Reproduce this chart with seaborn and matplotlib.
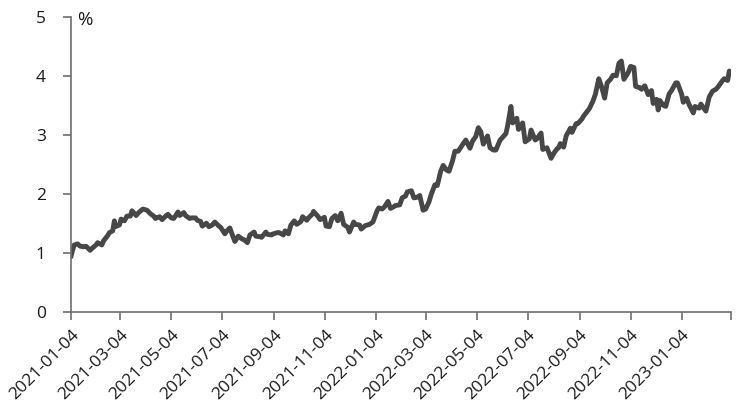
import pandas as pd
import matplotlib
matplotlib.use("Agg")
import matplotlib.pyplot as plt
import seaborn as sns

# Yield series (%), roughly twice a week
dates = [
    "2021-01-04", "2021-01-06", "2021-01-08", "2021-01-12", "2021-01-15", "2021-01-20",
    "2021-01-22", "2021-01-27", "2021-01-29", "2021-02-03", "2021-02-05", "2021-02-10",
    "2021-02-12", "2021-02-17", "2021-02-19", "2021-02-23", "2021-02-25", "2021-02-26",
    "2021-03-03", "2021-03-05", "2021-03-09", "2021-03-12", "2021-03-16", "2021-03-18",
    "2021-03-23", "2021-03-26", "2021-03-31", "2021-04-05", "2021-04-09", "2021-04-13",
    "2021-04-15", "2021-04-20", "2021-04-23", "2021-04-28", "2021-04-30", "2021-05-04",
    "2021-05-07", "2021-05-12", "2021-05-14", "2021-05-19", "2021-05-21", "2021-05-26",
    "2021-05-28", "2021-06-02", "2021-06-04", "2021-06-08", "2021-06-10", "2021-06-15",
    "2021-06-18", "2021-06-22", "2021-06-25", "2021-06-30", "2021-07-02", "2021-07-07",
    "2021-07-09", "2021-07-13", "2021-07-16", "2021-07-19", "2021-07-23", "2021-07-28",
    "2021-07-30", "2021-08-03", "2021-08-06", "2021-08-11", "2021-08-13", "2021-08-18",
    "2021-08-20", "2021-08-25", "2021-08-27", "2021-09-01", "2021-09-03", "2021-09-08",
    "2021-09-10", "2021-09-15", "2021-09-17", "2021-09-21", "2021-09-24", "2021-09-28",
    "2021-10-01", "2021-10-06", "2021-10-08", "2021-10-13", "2021-10-15", "2021-10-20",
    "2021-10-21", "2021-10-26", "2021-10-29", "2021-11-03", "2021-11-05", "2021-11-09",
    "2021-11-12", "2021-11-16", "2021-11-19", "2021-11-23", "2021-11-26", "2021-12-01",
    "2021-12-03", "2021-12-08", "2021-12-10", "2021-12-15", "2021-12-17", "2021-12-22",
    "2021-12-27", "2021-12-31", "2022-01-05", "2022-01-07", "2022-01-11", "2022-01-14",
    "2022-01-18", "2022-01-21", "2022-01-25", "2022-01-27", "2022-02-01", "2022-02-04",
    "2022-02-08", "2022-02-10", "2022-02-15", "2022-02-18", "2022-02-22", "2022-02-25",
    "2022-03-01", "2022-03-04", "2022-03-08", "2022-03-11", "2022-03-15", "2022-03-18",
    "2022-03-22", "2022-03-25", "2022-03-29", "2022-04-01", "2022-04-05", "2022-04-08",
    "2022-04-12", "2022-04-18", "2022-04-21", "2022-04-26", "2022-04-29", "2022-05-03",
    "2022-05-06", "2022-05-09", "2022-05-12", "2022-05-17", "2022-05-20", "2022-05-24",
    "2022-05-27", "2022-06-01", "2022-06-03", "2022-06-08", "2022-06-10", "2022-06-14",
    "2022-06-16", "2022-06-21", "2022-06-23", "2022-06-28", "2022-07-01", "2022-07-06",
    "2022-07-08", "2022-07-13", "2022-07-15", "2022-07-20", "2022-07-22", "2022-07-27",
    "2022-08-01", "2022-08-04", "2022-08-08", "2022-08-10", "2022-08-12", "2022-08-16",
    "2022-08-19", "2022-08-24", "2022-08-26", "2022-08-31", "2022-09-02", "2022-09-07",
    "2022-09-09", "2022-09-14", "2022-09-16", "2022-09-20", "2022-09-23", "2022-09-27",
    "2022-09-30", "2022-10-04", "2022-10-07", "2022-10-11", "2022-10-14", "2022-10-18",
    "2022-10-21", "2022-10-24", "2022-10-27", "2022-11-01", "2022-11-04", "2022-11-08",
    "2022-11-10", "2022-11-15", "2022-11-17", "2022-11-21", "2022-11-25", "2022-11-29",
    "2022-12-01", "2022-12-05", "2022-12-07", "2022-12-09", "2022-12-13", "2022-12-16",
    "2022-12-20", "2022-12-23", "2022-12-28", "2022-12-30", "2023-01-04", "2023-01-06",
    "2023-01-10", "2023-01-13", "2023-01-18", "2023-01-20", "2023-01-25", "2023-01-27",
    "2023-02-02", "2023-02-06", "2023-02-10", "2023-02-14", "2023-02-17", "2023-02-22",
    "2023-02-24", "2023-02-28", "2023-03-02",
]
values = [
    0.93, 1.04, 1.13, 1.15, 1.11, 1.10,
    1.11, 1.04, 1.07, 1.13, 1.17, 1.13,
    1.20, 1.29, 1.34, 1.37, 1.54, 1.44,
    1.47, 1.57, 1.54, 1.62, 1.62, 1.71,
    1.63, 1.68, 1.74, 1.72, 1.66, 1.62,
    1.58, 1.61, 1.56, 1.63, 1.65, 1.59,
    1.58, 1.69, 1.63, 1.68, 1.63, 1.58,
    1.59, 1.59, 1.55, 1.53, 1.45, 1.50,
    1.44, 1.47, 1.52, 1.45, 1.43, 1.32,
    1.36, 1.42, 1.30, 1.19, 1.28, 1.23,
    1.22, 1.17, 1.30, 1.35, 1.28, 1.27,
    1.26, 1.35, 1.31, 1.30, 1.32, 1.34,
    1.34, 1.30, 1.37, 1.32, 1.47, 1.54,
    1.48, 1.53, 1.61, 1.55, 1.59, 1.66,
    1.70, 1.62, 1.56, 1.60, 1.45, 1.44,
    1.58, 1.63, 1.54, 1.67, 1.48, 1.43,
    1.35, 1.52, 1.48, 1.47, 1.40, 1.46,
    1.48, 1.52, 1.71, 1.76, 1.74, 1.78,
    1.87, 1.75, 1.78, 1.80, 1.81, 1.93,
    1.96, 2.03, 2.05, 1.93, 1.94, 1.97,
    1.72, 1.74, 1.86, 2.00, 2.15, 2.14,
    2.38, 2.48, 2.40, 2.38, 2.55, 2.72,
    2.72, 2.85, 2.91, 2.77, 2.89, 2.97,
    3.12, 3.05, 2.84, 2.98, 2.78, 2.74,
    2.74, 2.91, 2.94, 3.02, 3.15, 3.48,
    3.20, 3.28, 3.09, 3.20, 2.88, 2.93,
    3.08, 2.91, 2.93, 3.03, 2.75, 2.78,
    2.60, 2.68, 2.76, 2.78, 2.85, 2.79,
    2.98, 3.11, 3.04, 3.19, 3.19, 3.27,
    3.32, 3.41, 3.45, 3.57, 3.69, 3.95,
    3.83, 3.62, 3.88, 3.94, 4.01, 4.00,
    4.21, 4.25, 3.94, 4.05, 4.16, 4.14,
    3.82, 3.80, 3.77, 3.83, 3.68, 3.75,
    3.53, 3.60, 3.42, 3.58, 3.50, 3.48,
    3.69, 3.75, 3.88, 3.88, 3.69, 3.55,
    3.62, 3.51, 3.37, 3.48, 3.45, 3.52,
    3.40, 3.64, 3.74, 3.77, 3.82, 3.92,
    3.95, 3.92, 4.08,
]

# x-axis labels every two months
tick_labels = [
    "2021-01-04", "2021-03-04", "2021-05-04", "2021-07-04", "2021-09-04",
    "2021-11-04", "2022-01-04", "2022-03-04", "2022-05-04", "2022-07-04",
    "2022-09-04", "2022-11-04", "2023-01-04",
]
axis_end = "2023-03-04"

df = pd.DataFrame({"date": pd.to_datetime(dates), "value": values})

sns.set_style("ticks")
plt.rcParams["font.family"] = ["Open Sans", "DejaVu Sans"]

fig = plt.figure(figsize=(7.4, 4.2), dpi=100)
ax = fig.add_axes([0.0958, 0.258, 0.892, 0.702])

sns.lineplot(data=df, x="date", y="value", ax=ax, color="#474747", linewidth=3.5)

spine_color = "#6e6e6e"
ax.set_ylim(0, 5)
ax.set_yticks([0, 1, 2, 3, 4, 5])
ax.set_xlim(pd.Timestamp(tick_labels[0]), pd.Timestamp(axis_end))
ticks = pd.to_datetime(tick_labels + [axis_end])
ax.set_xticks(ticks)
ax.set_xticklabels(tick_labels + [""], rotation=45, ha="right", rotation_mode="anchor")

ax.tick_params(axis="y", labelsize=12.5, length=6, width=1.2, color=spine_color,
               pad=12, labelcolor="#1a1a1a")
ax.tick_params(axis="x", labelsize=12.5, length=6, width=1.2, color=spine_color,
               pad=5, labelcolor="#1a1a1a")

sns.despine(ax=ax)
for side in ["left", "bottom"]:
    ax.spines[side].set_color(spine_color)
    ax.spines[side].set_linewidth(1.2)

ax.set_xlabel("")
ax.set_ylabel("")
ax.text(0.009, 0.99, "%", transform=ax.transAxes, fontsize=13.5,
        ha="left", va="center", color="#1a1a1a")

fig.savefig("out.png", dpi=100)
